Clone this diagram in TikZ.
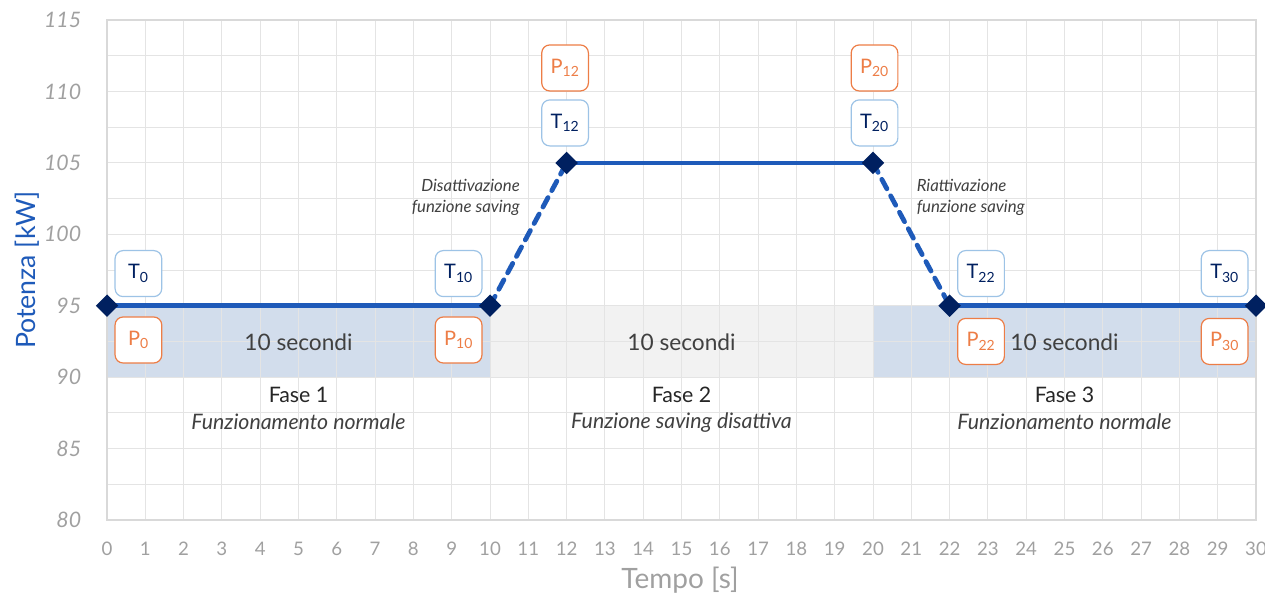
\documentclass[tikz,border=0pt]{standalone}
\usepackage{fontspec}
\setmainfont{Lato}
\usepackage{tikz}
\usetikzlibrary{shapes.geometric}
\definecolor{lineblue}{RGB}{30,90,185}
\definecolor{navy}{RGB}{0,32,96}
\definecolor{shblue}{RGB}{210,221,236}
\definecolor{shgrey}{RGB}{242,242,242}
\definecolor{gridc}{RGB}{228,228,228}
\definecolor{axisc}{RGB}{217,217,217}
\definecolor{tickc}{RGB}{160,160,160}
\definecolor{tborder}{RGB}{157,195,230}
\definecolor{porange}{RGB}{237,125,70}
\definecolor{darktext}{RGB}{64,64,64}

\tikzset{
  tlbl/.style={draw=tborder,rounded corners=6pt,fill=white,text=navy,line width=0.9pt,
    minimum width=35pt,minimum height=34.5pt,inner sep=0pt,font=\fontsize{15}{17}\selectfont},
  plbl/.style={tlbl,draw=porange,text=porange},
  diam/.style={diamond,fill=navy,minimum width=17pt,minimum height=17pt,inner sep=0pt},
  seg/.style={lineblue,line width=3.6pt},
  dseg/.style={lineblue,line width=3.6pt,dash pattern=on 8pt off 6pt,line cap=round},
}

\begin{document}
\begin{tikzpicture}[x=28.725pt,y=10.71pt]
\useasboundingbox (-2.794,74.61) rectangle (30.235,116.41);
% fasce
\fill[shblue] (0,90) rectangle (10,95);
\fill[shgrey] (10,90) rectangle (20,95);
\fill[shblue] (20,90) rectangle (30,95);
\draw[gridc,line width=0.7pt] (0,80) grid[xstep=1,ystep=2.5] (30,115);
\draw[axisc,line width=1.5pt] (0,80) rectangle (30,115);
% assi
\foreach \v in {80,85,...,115}
  \node[anchor=east,text=tickc,font=\fontsize{16}{18}\itshape] (y\v) at (-0.55,\v) {\v};
\foreach \t in {0,...,30}
  \node[text=tickc,font=\fontsize{14}{16}\selectfont] (x\t) at (\t,77.97) {\t};
\node[text=tickc,font=\fontsize{21}{24}\selectfont] (xlab) at (14.96,75.75) {Tempo [s]};
\node[rotate=90,text=lineblue,font=\fontsize{20}{24}\selectfont] (ylab) at (-2.09,97.5) {Potenza [kW]};
% testi fasi
\foreach \c/\n/\d in {5/1/Funzionamento normale,15/2/Funzione saving disattiva,25/3/Funzionamento normale}{
  \node[text=darktext,font=\fontsize{17}{20}\selectfont] (sec\n) at (\c,92.45) {10 secondi};
  \node[text=black!85,font=\fontsize{16}{19}\selectfont] (fase\n) at (\c,88.75) {Fase \n};
  \node[text=darktext,font=\fontsize{16}{19}\itshape] (desc\n) at (\c,86.85) {\d};
}
\node[anchor=east,align=right,text=darktext,font=\fontsize{12.6}{16}\itshape] (dis) at (10.9,102.6) {Disattivazione\\funzione saving};
\node[anchor=west,align=left,text=darktext,font=\fontsize{12.6}{16}\itshape] (ria) at (21.02,102.6) {Riattivazione\\funzione saving};
% profilo
\coordinate (p0) at (0,95);
\coordinate (p10) at (10,95);
\coordinate (p12) at (12,105);
\coordinate (p20) at (20,105);
\coordinate (p22) at (22,95);
\coordinate (p30) at (30,95);
\draw[seg] (p0) -- (p10);
\draw[seg] (p12) -- (p20);
\draw[seg] (p22) -- (p30);
\draw[dseg] (p10) -- (p12);
\draw[dseg] (p20) -- (p22);
\foreach \k in {0,10,12,20,22,30}
  \node[diam] (d\k) at (p\k) {};
% etichette
\node[tlbl] (t0) at (0.82,97.25) {T\textsubscript{0}};
\node[plbl] (q0) at (0.82,92.6) {P\textsubscript{0}};
\node[tlbl] (t10) at (9.18,97.25) {T\textsubscript{10}};
\node[plbl] (q10) at (9.18,92.6) {P\textsubscript{10}};
\node[tlbl] (t12) at (11.96,107.8) {T\textsubscript{12}};
\node[plbl] (q12) at (11.96,111.65) {P\textsubscript{12}};
\node[tlbl] (t20) at (20.04,107.8) {T\textsubscript{20}};
\node[plbl] (q20) at (20.04,111.65) {P\textsubscript{20}};
\node[tlbl] (t22) at (22.82,97.25) {T\textsubscript{22}};
\node[plbl] (q22) at (22.82,92.5) {P\textsubscript{22}};
\node[tlbl] (t30) at (29.18,97.25) {T\textsubscript{30}};
\node[plbl] (q30) at (29.18,92.5) {P\textsubscript{30}};
\end{tikzpicture}
\end{document}
